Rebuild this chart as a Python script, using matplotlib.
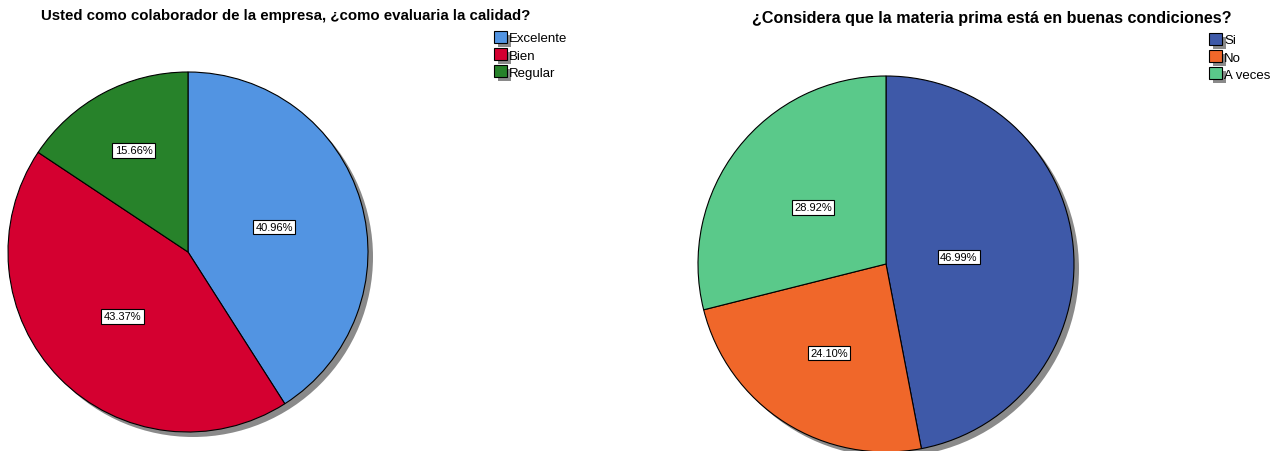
import numpy as np
import matplotlib.pyplot as plt
from matplotlib.patches import Circle, Patch, Rectangle
from matplotlib.legend_handler import HandlerBase

plt.rcParams['font.family'] = ['Liberation Sans', 'DejaVu Sans']

# left chart
q1_title = "Usted como colaborador de la empresa, ¿como evaluaria la calidad?"
q1_labels = ["Excelente", "Bien", "Regular"]
q1_values = [40.96, 43.37, 15.66]
q1_colors = ["#5294e2", "#d40030", "#27822a"]
q1_label_dist = [0.5, 0.51, 0.64]

# right chart
q2_title = "¿Considera que la materia prima está en buenas condiciones?"
q2_labels = ["Si", "No", "A veces"]
q2_values = [46.99, 24.10, 28.92]
q2_colors = ["#3e59a8", "#f0672a", "#5ac98a"]
q2_label_dist = [0.39, 0.56, 0.49]

W, H = 1280, 452
fig = plt.figure(figsize=(W / 100, H / 100), dpi=100)
ax = fig.add_axes([0, 0, 1, 1])


class ShadowHandler(HandlerBase):
    """legend square with a gray drop shadow, like the SPSS output"""
    def create_artists(self, legend, orig, xdescent, ydescent, width, height, fontsize, trans):
        sh = Rectangle((-xdescent + 3, -ydescent - 3), width, height, facecolor='#8a8a8a',
                       edgecolor='none', transform=trans)
        p = Rectangle((-xdescent, -ydescent), width, height, facecolor=orig.get_facecolor(),
                      edgecolor='black', linewidth=0.8, transform=trans)
        return [sh, p]


def draw_pie(values, colors, dists, cx, cy, r):
    # gray drop shadow behind the pie
    ax.add_patch(Circle((cx + 5, cy - 5), r, facecolor='#8a8a8a', edgecolor='none', zorder=0))
    wedges, _, autotexts = ax.pie(values, colors=colors, startangle=90, counterclock=False,
                                  center=(cx, cy), radius=r, autopct='%.2f%%',
                                  wedgeprops=dict(edgecolor='black', linewidth=0.8),
                                  textprops=dict(fontsize=8), frame=True)
    for w, t, d in zip(wedges, autotexts, dists):
        w.set_zorder(1)
        ang = np.deg2rad((w.theta1 + w.theta2) / 2)
        t.set_position((cx + d * r * np.cos(ang), cy + d * r * np.sin(ang)))
        t.set_zorder(3)
        t.set_bbox(dict(facecolor='white', edgecolor='black', linewidth=0.8, boxstyle='square,pad=0.2'))


def draw_legend(labels, colors, x, y):
    handles = [Patch(facecolor=c) for c in colors]
    fig.legend(handles, labels, loc='upper left', bbox_to_anchor=(x / W, 1 - y / H),
               frameon=False, fontsize=9.5, handlelength=1.0, handleheight=1.0,
               handletextpad=0.15, labelspacing=0.28, borderpad=0, borderaxespad=0,
               handler_map={Patch: ShadowHandler()})


draw_pie(q1_values, q1_colors, q1_label_dist, 188, H - 253, 180)
draw_pie(q2_values, q2_colors, q2_label_dist, 886, H - 265, 188)
ax.set_xlim(0, W)
ax.set_ylim(0, H)
ax.set_aspect('equal')
ax.axis('off')

fig.text(286 / W, 1 - 16 / H, q1_title, ha='center', va='center', fontsize=10.8, fontweight='bold')
fig.text(992 / W, 1 - 19 / H, q2_title, ha='center', va='center', fontsize=11.6, fontweight='bold')

draw_legend(q1_labels, q1_colors, 494, 32)
draw_legend(q2_labels, q2_colors, 1209, 34)

fig.savefig('out.png', dpi=100)
